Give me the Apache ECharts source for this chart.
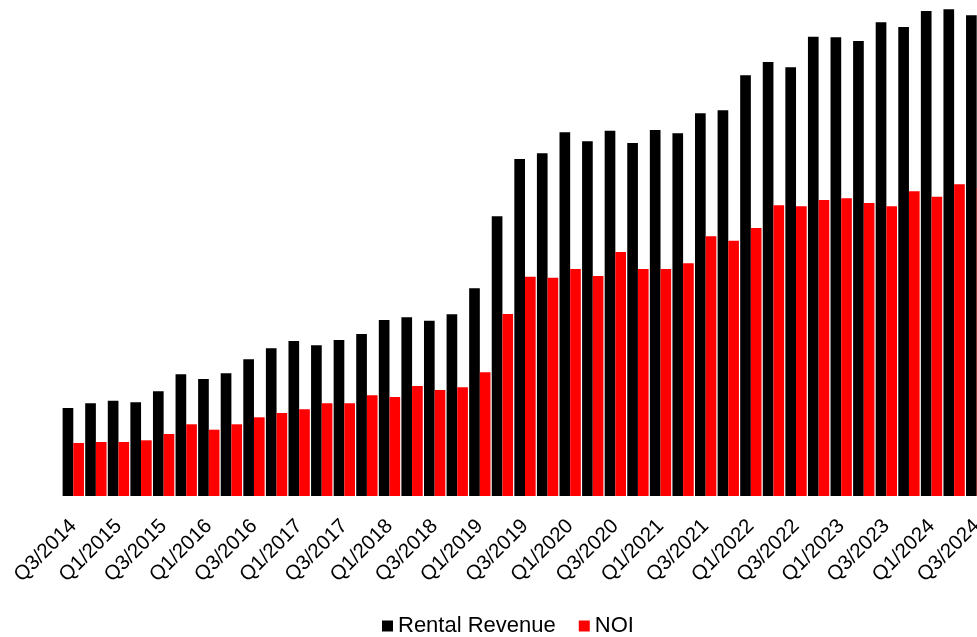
<!DOCTYPE html>
<html>
<head>
<meta charset="utf-8">
<script src="https://cdn.jsdelivr.net/npm/echarts@6/dist/echarts.min.js"></script>
<style>html,body{margin:0;padding:0;background:#fff}#c{width:977px;height:637px}</style>
</head>
<body>
<div id="c"></div>
<script>
const categories = [
  "Q3/2014","Q4/2014","Q1/2015","Q2/2015","Q3/2015","Q4/2015","Q1/2016","Q2/2016","Q3/2016","Q4/2016",
  "Q1/2017","Q2/2017","Q3/2017","Q4/2017","Q1/2018","Q2/2018","Q3/2018","Q4/2018","Q1/2019","Q2/2019",
  "Q3/2019","Q4/2019","Q1/2020","Q2/2020","Q3/2020","Q4/2020","Q1/2021","Q2/2021","Q3/2021","Q4/2021",
  "Q1/2022","Q2/2022","Q3/2022","Q4/2022","Q1/2023","Q2/2023","Q3/2023","Q4/2023","Q1/2024","Q2/2024",
  "Q3/2024"
];
const rentalRevenue = [
  88, 92.7, 95.3, 93.7, 104.7, 121.7, 117, 122.7, 136.7, 147.7,
  155, 150.7, 156, 162, 176, 178.7, 175.3, 181.7, 207.7, 279.7,
  337, 342.7, 363.7, 354.7, 365.3, 353, 366, 362.7, 382.7, 385.7,
  420.7, 434, 428.7, 459.3, 458.7, 455, 473.7, 469, 485, 486.7,
  480.7
];
const noi = [
  53, 54, 54, 55.7, 62, 71.7, 66.3, 71.7, 78.7, 83,
  86.7, 92.7, 92.7, 100.7, 99, 110, 106, 108.7, 123.7, 182,
  219.3, 218.3, 227, 220, 244, 227, 227, 232.7, 259.7, 255.3,
  268, 290.7, 289.7, 296, 297.7, 293, 289.7, 304.7, 299.3, 311.7,
  308
];
const seriesNames = ["Rental Revenue", "NOI"];

const chart = echarts.init(document.getElementById('c'), null, {renderer: 'canvas'});
chart.setOption({
  animation: false,
  backgroundColor: '#ffffff',
  grid: {left: 62, top: 0, width: 926, height: 496, containLabel: false, outerBoundsMode: 'none'},
  legend: {
    data: seriesNames,
    top: 615,
    left: 382,
    padding: 0,
    itemWidth: 11,
    itemHeight: 11,
    itemGap: 23,
    icon: 'rect',
    textStyle: {fontFamily: 'Liberation Sans, Arial, sans-serif', fontSize: 22, color: '#000'}
  },
  xAxis: {
    type: 'category',
    data: categories,
    axisLine: {show: false},
    axisTick: {show: false},
    axisLabel: {
      interval: 1,
      rotate: 45,
      margin: 27,
      fontFamily: 'Liberation Sans, Arial, sans-serif',
      fontSize: 20.5,
      color: '#000'
    }
  },
  yAxis: {
    type: 'value',
    min: 0,
    max: 496,
    show: false,
    splitLine: {show: false}
  },
  series: [
    {
      name: seriesNames[0],
      type: 'bar',
      data: rentalRevenue,
      barGap: '0%',
      barCategoryGap: '5.5%',
      itemStyle: {color: '#000000'}
    },
    {
      name: seriesNames[1],
      type: 'bar',
      data: noi,
      itemStyle: {color: '#ff0000'}
    }
  ]
});
</script>
</body>
</html>
